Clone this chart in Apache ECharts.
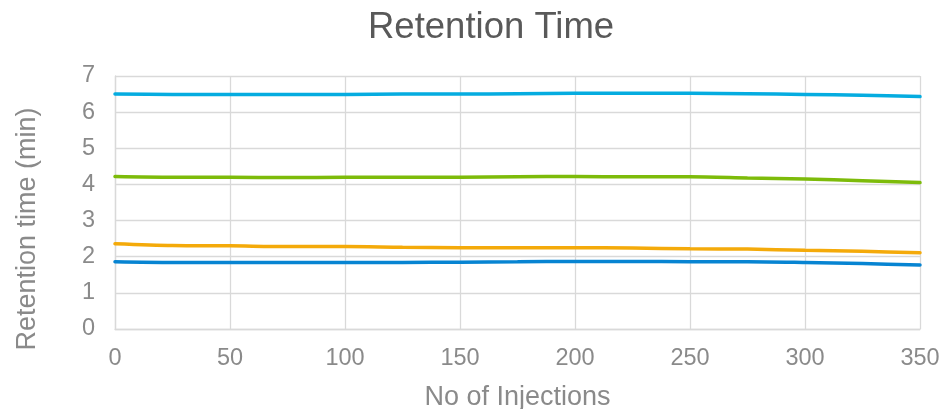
<!DOCTYPE html>
<html>
<head>
<meta charset="utf-8">
<script src="https://cdn.jsdelivr.net/npm/echarts@6/dist/echarts.min.js"></script>
<style>
  html, body { margin: 0; padding: 0; background: #ffffff; }
  #chart { width: 948px; height: 409px; }
</style>
</head>
<body>
<div id="chart"></div>
<script>
// Injection counts at which retention time was recorded
const injections = [0, 25, 50, 75, 100, 125, 150, 175, 200, 225, 250, 275, 300, 325, 350];

// Retention times (min) of the four peaks
const peak4 = [6.50, 6.49, 6.49, 6.49, 6.49, 6.50, 6.50, 6.51, 6.52, 6.52, 6.52, 6.51, 6.49, 6.47, 6.43];
const peak3 = [4.22, 4.20, 4.20, 4.19, 4.20, 4.20, 4.20, 4.21, 4.22, 4.21, 4.21, 4.18, 4.15, 4.10, 4.05];
const peak2 = [2.36, 2.31, 2.30, 2.28, 2.28, 2.26, 2.25, 2.25, 2.25, 2.24, 2.22, 2.21, 2.18, 2.15, 2.11];
const peak1 = [1.86, 1.84, 1.84, 1.84, 1.84, 1.84, 1.85, 1.86, 1.87, 1.87, 1.86, 1.86, 1.84, 1.81, 1.77];

const xTicks = [0, 50, 100, 150, 200, 250, 300, 350];
const yTicks = [0, 1, 2, 3, 4, 5, 6, 7];

const FONT = '"Liberation Sans", Arial, sans-serif';
const LABEL = '#8a8a8a';
const GRID = '#d9d9d9';

function pairs(ys) {
  return injections.map((x, i) => [x, ys[i]]);
}

function line(name, ys, color) {
  return {
    name: name,
    type: 'line',
    data: pairs(ys),
    smooth: 0.3,
    showSymbol: false,
    lineStyle: { color: color, width: 3.5, cap: 'round' },
    itemStyle: { color: color },
    animation: false
  };
}

const chart = echarts.init(document.getElementById('chart'), null, { renderer: 'canvas' });

chart.setOption({
  backgroundColor: '#ffffff',
  animation: false,
  title: {
    text: 'Retention Time',
    left: 363,
    top: 4,
    textStyle: { fontFamily: FONT, fontSize: 36.5, fontWeight: 'normal', color: '#595959' }
  },
  grid: { left: 115, right: 28, top: 76, bottom: 80, containLabel: false, outerBoundsMode: 'none' },
  xAxis: {
    type: 'value',
    min: xTicks[0],
    max: xTicks[xTicks.length - 1],
    interval: xTicks[1] - xTicks[0],
    name: 'No of Injections',
    nameLocation: 'middle',
    nameGap: 55,
    nameTextStyle: { fontFamily: FONT, fontSize: 27, color: LABEL },
    axisLine: { show: true, lineStyle: { color: GRID, width: 1.3 } },
    axisTick: { show: false },
    axisLabel: { fontFamily: FONT, fontSize: 23.5, color: LABEL, margin: 18 },
    splitLine: { show: true, lineStyle: { color: GRID, width: 1.3 } }
  },
  yAxis: {
    type: 'value',
    min: yTicks[0],
    max: yTicks[yTicks.length - 1],
    interval: yTicks[1] - yTicks[0],
    axisLine: { show: true, lineStyle: { color: GRID, width: 1.3 } },
    axisTick: { show: false },
    axisLabel: { fontFamily: FONT, fontSize: 23.5, color: LABEL, margin: 20 },
    splitLine: { show: true, lineStyle: { color: GRID, width: 1.3 } }
  },
  graphic: [{
    type: 'text',
    x: 28,
    y: 229,
    rotation: Math.PI / 2,
    style: {
      text: 'Retention time (min)',
      font: '27px ' + FONT,
      fill: LABEL,
      align: 'center',
      verticalAlign: 'middle'
    }
  }],
  series: [
    line('Peak 4', peak4, '#05ACE0'),
    line('Peak 3', peak3, '#7DBB0A'),
    line('Peak 2', peak2, '#F4AA0A'),
    line('Peak 1', peak1, '#0784D2')
  ]
});
</script>
</body>
</html>
